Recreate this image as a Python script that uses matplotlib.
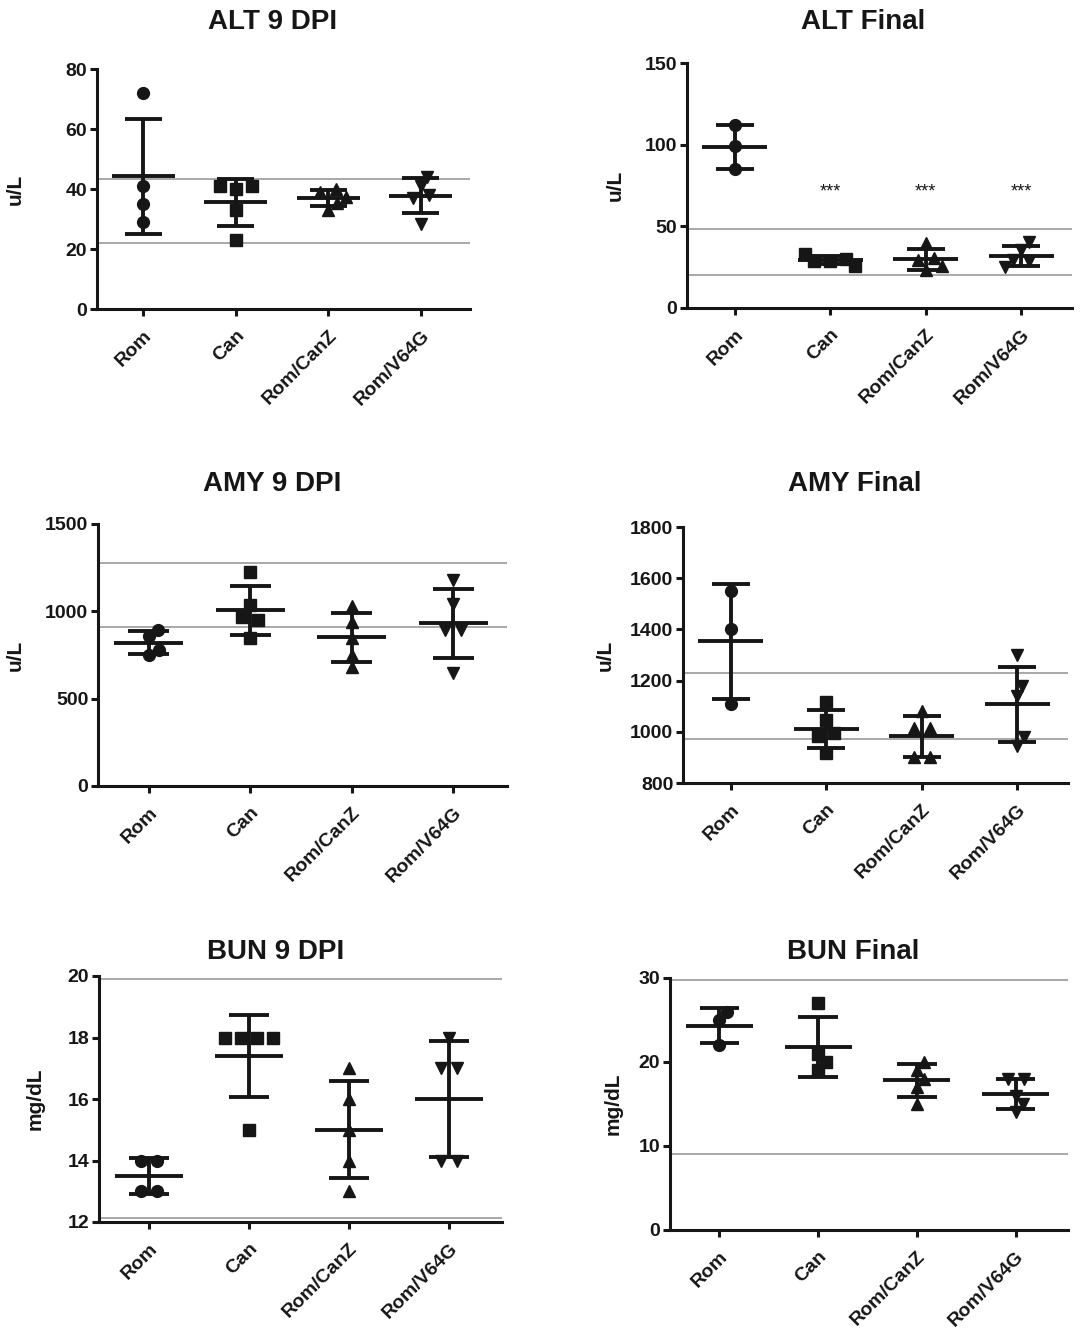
import matplotlib.pyplot as plt
import numpy as np

plt.rcParams['font.family'] = ['Liberation Sans', 'DejaVu Sans']

groups = ['Rom', 'Can', 'Rom/CanZ', 'Rom/V64G']
markers = ['o', 's', '^', 'v']
marker_sizes = [8.5, 8.0, 9.0, 9.0]

# ALT 9 DPI (u/L)
alt9_rom = [72, 41, 35, 29]
alt9_can = [41, 40, 41, 33, 23]
alt9_canz = [39, 40, 37.5, 35.5, 33]
alt9_v64g = [44, 41, 37, 38, 28.5]
alt9_ref = [43.3, 22]

# ALT Final (u/L)
altf_rom = [112, 99, 85]
altf_can = [29, 26, 29, 30, 33]
altf_canz = [29.5, 23, 40, 26, 30.5]
altf_v64g = [29.5, 40.5, 25, 35.5, 28.5]
altf_ref = [48.5, 20]
altf_stars = [None, '***', '***', '***']
altf_star_y = 71

# AMY 9 DPI (u/L)
amy9_rom = [893, 861, 779, 750]
amy9_can = [1228, 1037, 966, 950, 846]
amy9_canz = [1031, 941, 846, 750, 683]
amy9_v64g = [1180, 1043, 893, 893, 645]
amy9_ref = [1278, 911]

# AMY Final (u/L)
amyf_rom = [1550, 1400, 1110]
amyf_can = [1115, 1045, 985, 995, 918]
amyf_canz = [1080, 1015, 1015, 900, 900]
amyf_v64g = [1300, 1177, 1138, 979, 943]
amyf_ref = [1229, 973]

# BUN 9 DPI (mg/dL)
bun9_rom = [14, 14, 13, 13]
bun9_can = [18, 18, 18, 18, 15]
bun9_canz = [17, 16, 15, 14, 13]
bun9_v64g = [18, 17, 17, 14, 14]
bun9_ref = [19.9, 12.13]

# BUN Final (mg/dL)
bunf_rom = [26, 25, 22]
bunf_can = [27, 21, 20, 19]
bunf_canz = [20, 19, 18, 17, 15]
bunf_v64g = [18, 18, 16, 15, 14]
bunf_ref = [29.8, 9.0]

panels = [
    ('ALT 9 DPI', 'u/L', [alt9_rom, alt9_can, alt9_canz, alt9_v64g], alt9_ref, (0, 80), np.arange(0, 81, 20), None),
    ('ALT Final', 'u/L', [altf_rom, altf_can, altf_canz, altf_v64g], altf_ref, (0, 150), np.arange(0, 151, 50), altf_stars),
    ('AMY 9 DPI', 'u/L', [amy9_rom, amy9_can, amy9_canz, amy9_v64g], amy9_ref, (0, 1500), np.arange(0, 1501, 500), None),
    ('AMY Final', 'u/L', [amyf_rom, amyf_can, amyf_canz, amyf_v64g], amyf_ref, (800, 1800), np.arange(800, 1801, 200), None),
    ('BUN 9 DPI', 'mg/dL', [bun9_rom, bun9_can, bun9_canz, bun9_v64g], bun9_ref, (12, 20), np.arange(12, 21, 2), None),
    ('BUN Final', 'mg/dL', [bunf_rom, bunf_can, bunf_canz, bunf_v64g], bunf_ref, (0, 30), np.arange(0, 31, 10), None),
]

W, H = 1084, 1335
# axes boxes in pixels: left, right, top, bottom ; title centre ; y-label x
layout = [
    ((97, 470, 69, 309), (273, 22), 25),
    ((687, 1072, 63, 308), (863, 22), 625),
    ((98, 507, 524, 786), (272, 484), 25),
    ((683, 1068, 527, 783), (855, 484), 615),
    ((99, 502, 976, 1222), (276, 952), 45),
    ((670, 1068, 978, 1230), (853, 952), 623),
]

INK = '#161616'
REF = '#a8a8a8'
XLIM = (-0.5, 3.53)


def swarm_offsets(vals, px_y, px_x, tol=3.0, gap=16.0, dist=11.0):
    """GraphPad-like column scatter: tied values side by side, others nudged."""
    ypx = np.asarray(vals, float) * px_y
    n = len(ypx)
    xs = np.full(n, np.nan)
    order = np.argsort(ypx, kind='stable')
    rows, cur = [], [order[0]]
    for a, b in zip(order[:-1], order[1:]):
        if ypx[b] - ypx[a] <= tol:
            cur.append(b)
        else:
            rows.append(cur)
            cur = [b]
    rows.append(cur)
    for row in rows:
        if len(row) > 1:
            row = sorted(row)
            for k, i in enumerate(row):
                xs[i] = (k - (len(row) - 1) / 2) * gap
    cands = [0.0]
    for s in np.arange(0.5, 60, 0.5):
        cands += [s, -s]
    for row in rows:
        if len(row) == 1:
            i = row[0]
            placed = ~np.isnan(xs)
            for c in cands:
                d = np.hypot(xs[placed] - c, ypx[placed] - ypx[i])
                if np.all(d >= dist):
                    xs[i] = c
                    break
    return xs / px_x


fig = plt.figure(figsize=(W / 100, H / 100), dpi=100)
fig.patch.set_facecolor('white')

for (title, unit, data, ref, ylim, yticks, stars), (box, tpos, ylab_x) in zip(panels, layout):
    l, r, t, b = box
    ax = fig.add_axes([l / W, 1 - b / H, (r - l) / W, (b - t) / H])
    ax.set_xlim(*XLIM)
    ax.set_ylim(*ylim)
    px_x = (r - l) / (XLIM[1] - XLIM[0])
    px_y = (b - t) / (ylim[1] - ylim[0])

    for yv in ref:
        ax.axhline(yv, color=REF, lw=1.4, zorder=1)

    for i, vals in enumerate(data):
        vals = np.asarray(vals, float)
        offs = swarm_offsets(vals - ylim[0], px_y, px_x)
        ax.plot(i + offs, vals, linestyle='none', marker=markers[i],
                ms=marker_sizes[i], color=INK, mec=INK, zorder=3)
        m = vals.mean()
        s = vals.std(ddof=1)
        ax.hlines(m, i - 0.34, i + 0.34, color=INK, lw=2.8, zorder=4)
        ax.vlines(i, m - s, m + s, color=INK, lw=2.8, zorder=4)
        ax.hlines([m - s, m + s], i - 0.2, i + 0.2, color=INK, lw=2.8, zorder=4)
        if stars is not None and stars[i]:
            ax.text(i, altf_star_y, stars[i], ha='center', va='center',
                    fontsize=13, color=INK)

    for sp in ['top', 'right']:
        ax.spines[sp].set_visible(False)
    for sp in ['left', 'bottom']:
        ax.spines[sp].set_linewidth(2.2)
        ax.spines[sp].set_color(INK)
    ax.set_facecolor('none')

    ax.set_yticks(yticks)
    ax.set_yticklabels([str(v) for v in yticks], fontsize=14, fontweight='bold')
    ax.set_xticks(range(len(groups)))
    ax.set_xticklabels(groups, rotation=45, ha='right', va='top',
                       rotation_mode='anchor', fontsize=14, fontweight='bold')
    ax.tick_params(axis='both', length=5, width=2.2, color=INK, labelcolor=INK, pad=2)
    ax.tick_params(axis='x', pad=8)

    ax.set_ylabel(unit, fontsize=15, fontweight='bold', color=INK)
    ax.yaxis.set_label_coords((ylab_x - l) / (r - l), 0.5)

    fig.text(tpos[0] / W, 1 - tpos[1] / H, title, ha='center', va='center',
             fontsize=20, fontweight='bold', color=INK)

plt.savefig('out.png', dpi=100)
